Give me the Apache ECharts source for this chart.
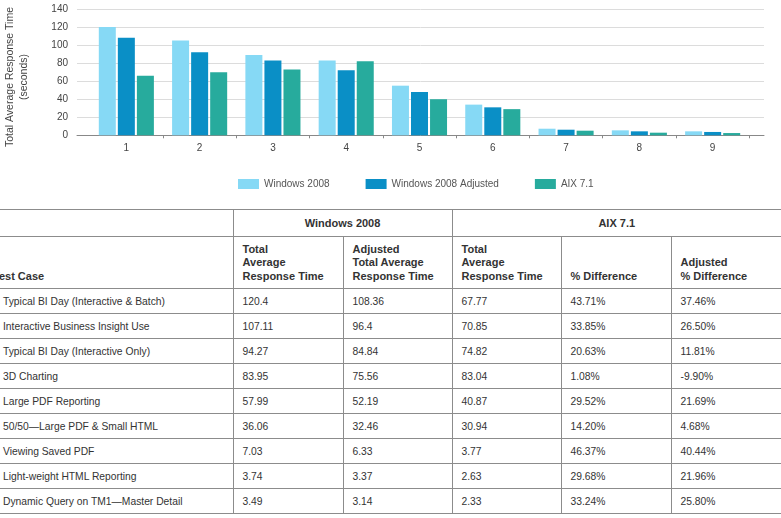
<!DOCTYPE html>
<html>
<head>
<meta charset="utf-8">
<script src="https://cdn.jsdelivr.net/npm/echarts@6/dist/echarts.min.js"></script>
<style>
  body { margin: 0; width: 781px; height: 518px; overflow: hidden; background: #fff; font-family: "Liberation Sans", Arial, sans-serif; position: relative; }
  #chart { position: absolute; left: 0; top: 0; width: 781px; height: 205px; }
  #tbl { position: absolute; left: 0; top: 209px; width: 781px; border-collapse: collapse; table-layout: fixed; color: #333; }
  #tbl td { border: 1px solid #8c8c8c; padding: 0 0 0 9px; font-size: 10.3px; height: 24px; vertical-align: middle; white-space: nowrap; overflow: hidden; }
  #tbl tr td:first-child { border-left: none; padding-left: 3px; }
  #tbl tr td:last-child { border-right: none; }
  #tbl tr.h1 td { height: 26px; font-weight: bold; font-size: 11px; text-align: center; padding: 0; }
  #tbl tr.h2 td { height: 46px; font-weight: bold; font-size: 11px; line-height: 13.3px; vertical-align: bottom; padding-bottom: 5px; }
</style>
</head>
<body>
<div id="chart"></div>
<table id="tbl"></table>
<script>
// chart values
var categories = ['1', '2', '3', '4', '5', '6', '7', '8', '9'];
var seriesNames = ['Windows 2008', 'Windows 2008 Adjusted', 'AIX 7.1'];
var win2008 = [120, 105, 89, 83, 55, 34, 7.3, 5.5, 4.4];
var win2008Adj = [108, 92, 83, 72, 48, 31, 6.2, 4.4, 3.7];
var aix71 = [66, 70, 73, 82, 40, 29, 5.1, 2.9, 2.5];
var yTicks = [0, 20, 40, 60, 80, 100, 120, 140];

// table values
var testCases = ['Typical BI Day (Interactive & Batch)', 'Interactive Business Insight Use', 'Typical BI Day (Interactive Only)', '3D Charting', 'Large PDF Reporting', '50/50\u2014Large PDF & Small HTML', 'Viewing Saved PDF', 'Light-weight HTML Reporting', 'Dynamic Query on TM1\u2014Master Detail'];
var tWin = ['120.4', '107.11', '94.27', '83.95', '57.99', '36.06', '7.03', '3.74', '3.49'];
var tWinAdj = ['108.36', '96.4', '84.84', '75.56', '52.19', '32.46', '6.33', '3.37', '3.14'];
var tAix = ['67.77', '70.85', '74.82', '83.04', '40.87', '30.94', '3.77', '2.63', '2.33'];
var tDiff = ['43.71%', '33.85%', '20.63%', '1.08%', '29.52%', '14.20%', '46.37%', '29.68%', '33.24%'];
var tAdjDiff = ['37.46%', '26.50%', '11.81%', '-9.90%', '21.69%', '4.68%', '40.44%', '21.96%', '25.80%'];

var colors = ['#86d9f5', '#0a8fc6', '#27ab9d'];
var txt = '#444';

var chart = echarts.init(document.getElementById('chart'));
var option = {
  animation: false,
  textStyle: { fontFamily: 'Liberation Sans, Arial, sans-serif' },
  grid: [
    { left: 77, width: 687, top: 9, height: 126.3 },
    { left: 89.7, width: 659.6, top: 9, height: 126.3 }
  ],
  legend: {
    left: 233, top: 174, itemWidth: 21, itemHeight: 10, itemGap: 36, icon: 'rect',
    textStyle: { fontSize: 10, color: '#555' },
    data: seriesNames
  },
  xAxis: [
    { gridIndex: 0, type: 'value', min: 0, max: 1, axisLine: { show: true, onZero: false, lineStyle: { color: '#888', width: 1 } },
      axisTick: { show: false }, axisLabel: { show: false }, splitLine: { show: false } },
    { gridIndex: 1, type: 'category', data: categories, axisLine: { show: false },
      axisTick: { show: true, length: 3, lineStyle: { color: '#888' }, interval: function (i) { return i > 0; } },
      axisLabel: { fontSize: 10, color: txt, margin: 8 } }
  ],
  yAxis: [
    { gridIndex: 0, type: 'value', min: 0, max: 140, interval: 20, axisLine: { show: false }, axisTick: { show: false },
      axisLabel: { fontSize: 10, color: txt, margin: 9 }, splitLine: { lineStyle: { color: '#dcdcdc' } } },
    { gridIndex: 1, type: 'value', min: 0, max: 140, interval: 20, show: false, splitLine: { show: false } }
  ],
  graphic: [{
    type: 'text', x: 17, y: 77, rotation: Math.PI / 2,
    style: { text: 'Total Average Response Time\n(seconds)', fontSize: 10.5, lineHeight: 14, fill: txt, align: 'center', verticalAlign: 'middle', fontFamily: 'Liberation Sans, Arial, sans-serif' }
  }],
  series: [
    { name: seriesNames[0], type: 'bar', xAxisIndex: 1, yAxisIndex: 1, data: win2008, barWidth: 17, barGap: '12%', itemStyle: { color: colors[0] } },
    { name: seriesNames[1], type: 'bar', xAxisIndex: 1, yAxisIndex: 1, data: win2008Adj, barWidth: 17, barGap: '12%', itemStyle: { color: colors[1] } },
    { name: seriesNames[2], type: 'bar', xAxisIndex: 1, yAxisIndex: 1, data: aix71, barWidth: 17, barGap: '12%', itemStyle: { color: colors[2] } }
  ]
};
chart.setOption(option);

// table
var tbl = document.getElementById('tbl');
var html = '<colgroup><col style="width:233px"><col style="width:110px"><col style="width:109px"><col style="width:109px"><col style="width:110px"><col style="width:110px"></colgroup>';
html += '<tr class="h1"><td></td><td colspan="2">Windows 2008</td><td colspan="3">AIX 7.1</td></tr>';
html += '<tr class="h2"><td><span style="position:relative;left:-10px">Test Case</span></td>' +
  '<td>Total<br>Average<br>Response Time</td>' +
  '<td>Adjusted<br>Total Average<br>Response Time</td>' +
  '<td>Total<br>Average<br>Response Time</td>' +
  '<td>% Difference</td>' +
  '<td>Adjusted<br>% Difference</td></tr>';
for (var i = 0; i < testCases.length; i++) {
  html += '<tr><td>' + testCases[i].replace('&', '&amp;') + '</td><td>' + tWin[i] + '</td><td>' + tWinAdj[i] +
    '</td><td>' + tAix[i] + '</td><td>' + tDiff[i] + '</td><td>' + tAdjDiff[i] + '</td></tr>';
}
tbl.innerHTML = html;
</script>
</body>
</html>
